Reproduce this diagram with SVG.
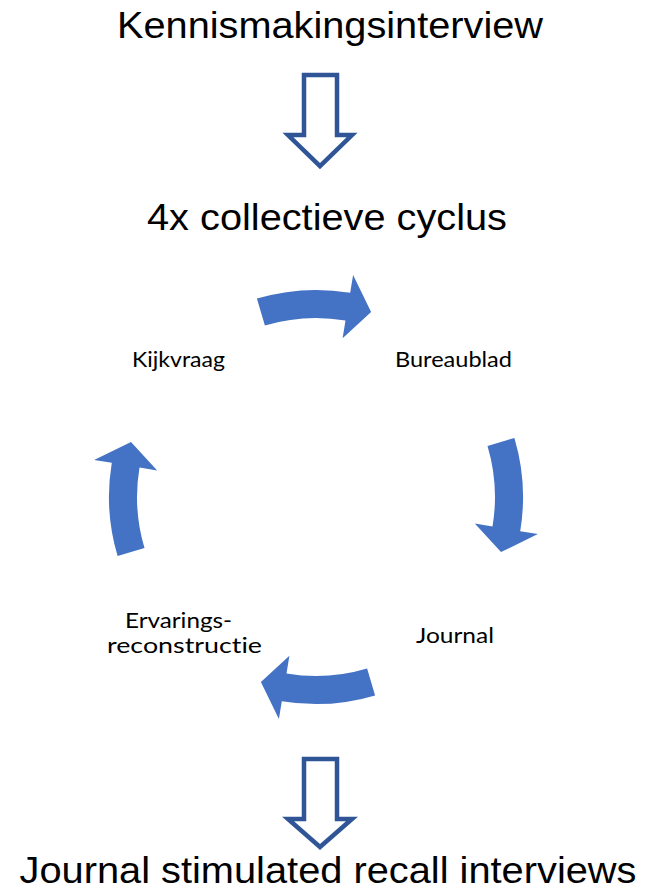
<svg xmlns="http://www.w3.org/2000/svg" width="647" height="890" viewBox="0 0 647 890">
<style>
.big{font-family:"Liberation Sans",Arial,sans-serif;font-size:36px;fill:#000;text-anchor:middle}
.lbl{font-family:Lato,"Open Sans",sans-serif;font-size:21px;fill:#000;text-anchor:middle;font-variant-ligatures:none}
.blk{fill:#fff;stroke:#2F5597;stroke-width:4.5;stroke-linejoin:miter}
.cyc{fill:#4472C4}
</style>
<defs>
<path id="carrow" d="M -59.1,-198.4 A 207 207 0 0 1 34.2,-204.2 L 37.1,-221.9 L 55.1,-185.0 L 26.6,-158.8 L 29.5,-176.5 A 179 179 0 0 0 -51.1,-171.5 Z"/>
</defs>
<rect width="647" height="890" fill="#fff"/>
<g id="title"><text class="big" x="330" y="38" textLength="426" lengthAdjust="spacingAndGlyphs">Kennismakingsinterview</text></g>
<g id="cyclus"><text class="big" x="327" y="230" textLength="360" lengthAdjust="spacingAndGlyphs">4x collectieve cyclus</text></g>
<g id="recall"><text class="big" x="328" y="883" textLength="617" lengthAdjust="spacingAndGlyphs">Journal stimulated recall interviews</text></g>
<g id="kijkvraag"><text class="lbl" x="178.5" y="367" textLength="93" lengthAdjust="spacingAndGlyphs">Kijkvraag</text></g>
<g id="bureaublad"><text class="lbl" x="453.5" y="367" textLength="117" lengthAdjust="spacingAndGlyphs">Bureaublad</text></g>
<g id="journal"><text class="lbl" x="455" y="643" textLength="78" lengthAdjust="spacingAndGlyphs">Journal</text></g>
<g id="ervaringsreconstructie"><text class="lbl" x="178.5" y="628" textLength="107" lengthAdjust="spacingAndGlyphs">Ervarings-</text><text class="lbl" x="184.5" y="653" textLength="155" lengthAdjust="spacingAndGlyphs">reconstructie</text></g>
<g id="connectors">
<path class="blk" d="M304,75 H337 V135 H352 L320,166 L288,135 H304 Z"/>
<path class="blk" d="M304,759 H337 V819 H352 L320,847 L288,819 H304 Z"/>
<use href="#carrow" class="cyc" transform="translate(316,497)"/>
<use href="#carrow" class="cyc" transform="translate(316,497) rotate(90)"/>
<use href="#carrow" class="cyc" transform="translate(316,497) rotate(180)"/>
<use href="#carrow" class="cyc" transform="translate(316,497) rotate(270)"/>
</g>
</svg>
